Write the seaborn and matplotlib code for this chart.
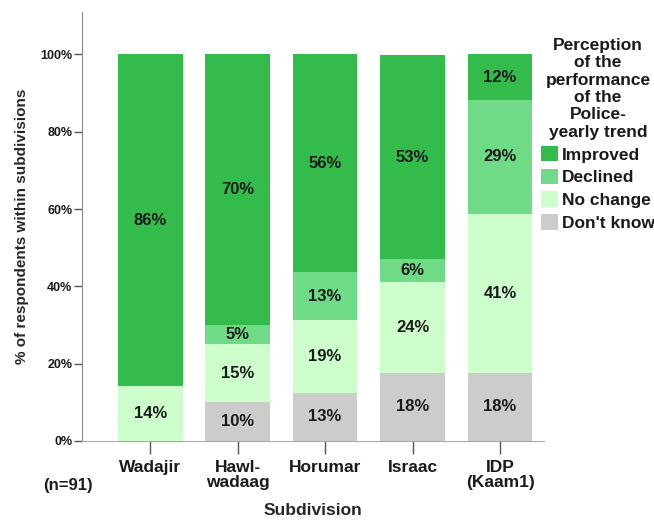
import numpy as np
import pandas as pd
import matplotlib
matplotlib.use("Agg")
import matplotlib.pyplot as plt
import seaborn as sns

# data (percent of respondents within each subdivision)
subdivisions = ["Wadajir", "Hawl-\nwadaag", "Horumar", "Israac", "IDP\n(Kaam1)"]
dont_know = [0.0, 10.0, 12.5, 17.6, 17.6]
no_change = [14.3, 15.0, 18.75, 23.5, 41.2]
declined = [0.0, 5.0, 12.5, 5.9, 29.4]
improved = [85.7, 70.0, 56.25, 52.9, 11.8]

categories = ["Don't know", "No change", "Declined", "Improved"]
colors = {"Improved": "#33bb4b", "Declined": "#70db86",
          "No change": "#ccffcc", "Don't know": "#cccccc"}

df = pd.DataFrame({"Subdivision": subdivisions, "Don't know": dont_know,
                   "No change": no_change, "Declined": declined,
                   "Improved": improved})

sns.set_style("white")
plt.rcParams["font.family"] = ["Liberation Sans", "DejaVu Sans"]
plt.rcParams["font.weight"] = "bold"
plt.rcParams["text.color"] = "#1a1a1a"

fig = plt.figure(figsize=(6.54, 5.21), dpi=100)
ax = fig.add_axes([0.1254, 0.1536, 0.706, 0.8234])

bottom = np.zeros(len(subdivisions))
for cat in categories:
    vals = df[cat].to_numpy()
    sns.barplot(x=df["Subdivision"], y=vals, bottom=bottom, color=colors[cat],
                width=0.74, linewidth=0, saturation=1, ax=ax, label=cat)
    for i, v in enumerate(vals):
        if v > 0:
            ax.text(i, bottom[i] + v / 2, f"{int(v + 0.5)}%", ha="center",
                    va="center", fontsize=12, fontweight="bold")
    bottom = bottom + vals

ax.set_xlim(-0.78, 4.5)
ax.set_ylim(0, 111)
ax.set_yticks([0, 20, 40, 60, 80, 100])
ax.set_yticklabels(["0%", "20%", "40%", "60%", "80%", "100%"],
                   fontsize=9, fontweight="bold", color="#1a1a1a")
ax.set_xticks(range(len(subdivisions)))
ax.set_xticklabels(subdivisions, fontsize=12.5, fontweight="bold",
                   linespacing=1.0, color="#1a1a1a")
ax.tick_params(axis="y", length=6, width=1, color="#555555", pad=1, left=True)
ax.tick_params(axis="x", length=9, width=1, color="#555555", pad=5, bottom=True)

for s in ["top", "right"]:
    ax.spines[s].set_visible(False)
ax.spines["left"].set_color("#888888")
ax.spines["bottom"].set_color("#aaaaaa")

ax.set_ylabel("% of respondents within subdivisions", fontsize=11,
              fontweight="bold", labelpad=8)
ax.set_xlabel("Subdivision", fontsize=12.5, fontweight="bold", labelpad=9)

ax.text(-1.22, -0.103, "(n=91)", transform=ax.get_xaxis_transform(),
        ha="left", va="center", fontsize=12, fontweight="bold")

handles, labels = ax.get_legend_handles_labels()
order = ["Improved", "Declined", "No change", "Don't know"]
hmap = dict(zip(labels, handles))
leg = ax.legend([hmap[o] for o in order], order,
                title="Perception\nof the\nperformance\nof the\nPolice-\nyearly trend",
                loc="upper left", bbox_to_anchor=(0.981, 0.954), frameon=False,
                prop={"size": 12.5, "weight": "bold"}, handlelength=0.95,
                handleheight=1.0, handletextpad=0.25, labelspacing=0.35,
                borderaxespad=0, borderpad=0.35, alignment="center")
leg.get_title().set_fontsize(12.5)
leg.get_title().set_fontweight("bold")
leg.get_title().set_multialignment("center")
leg.get_title().set_linespacing(1.2)

fig.savefig("out.png", dpi=100)
